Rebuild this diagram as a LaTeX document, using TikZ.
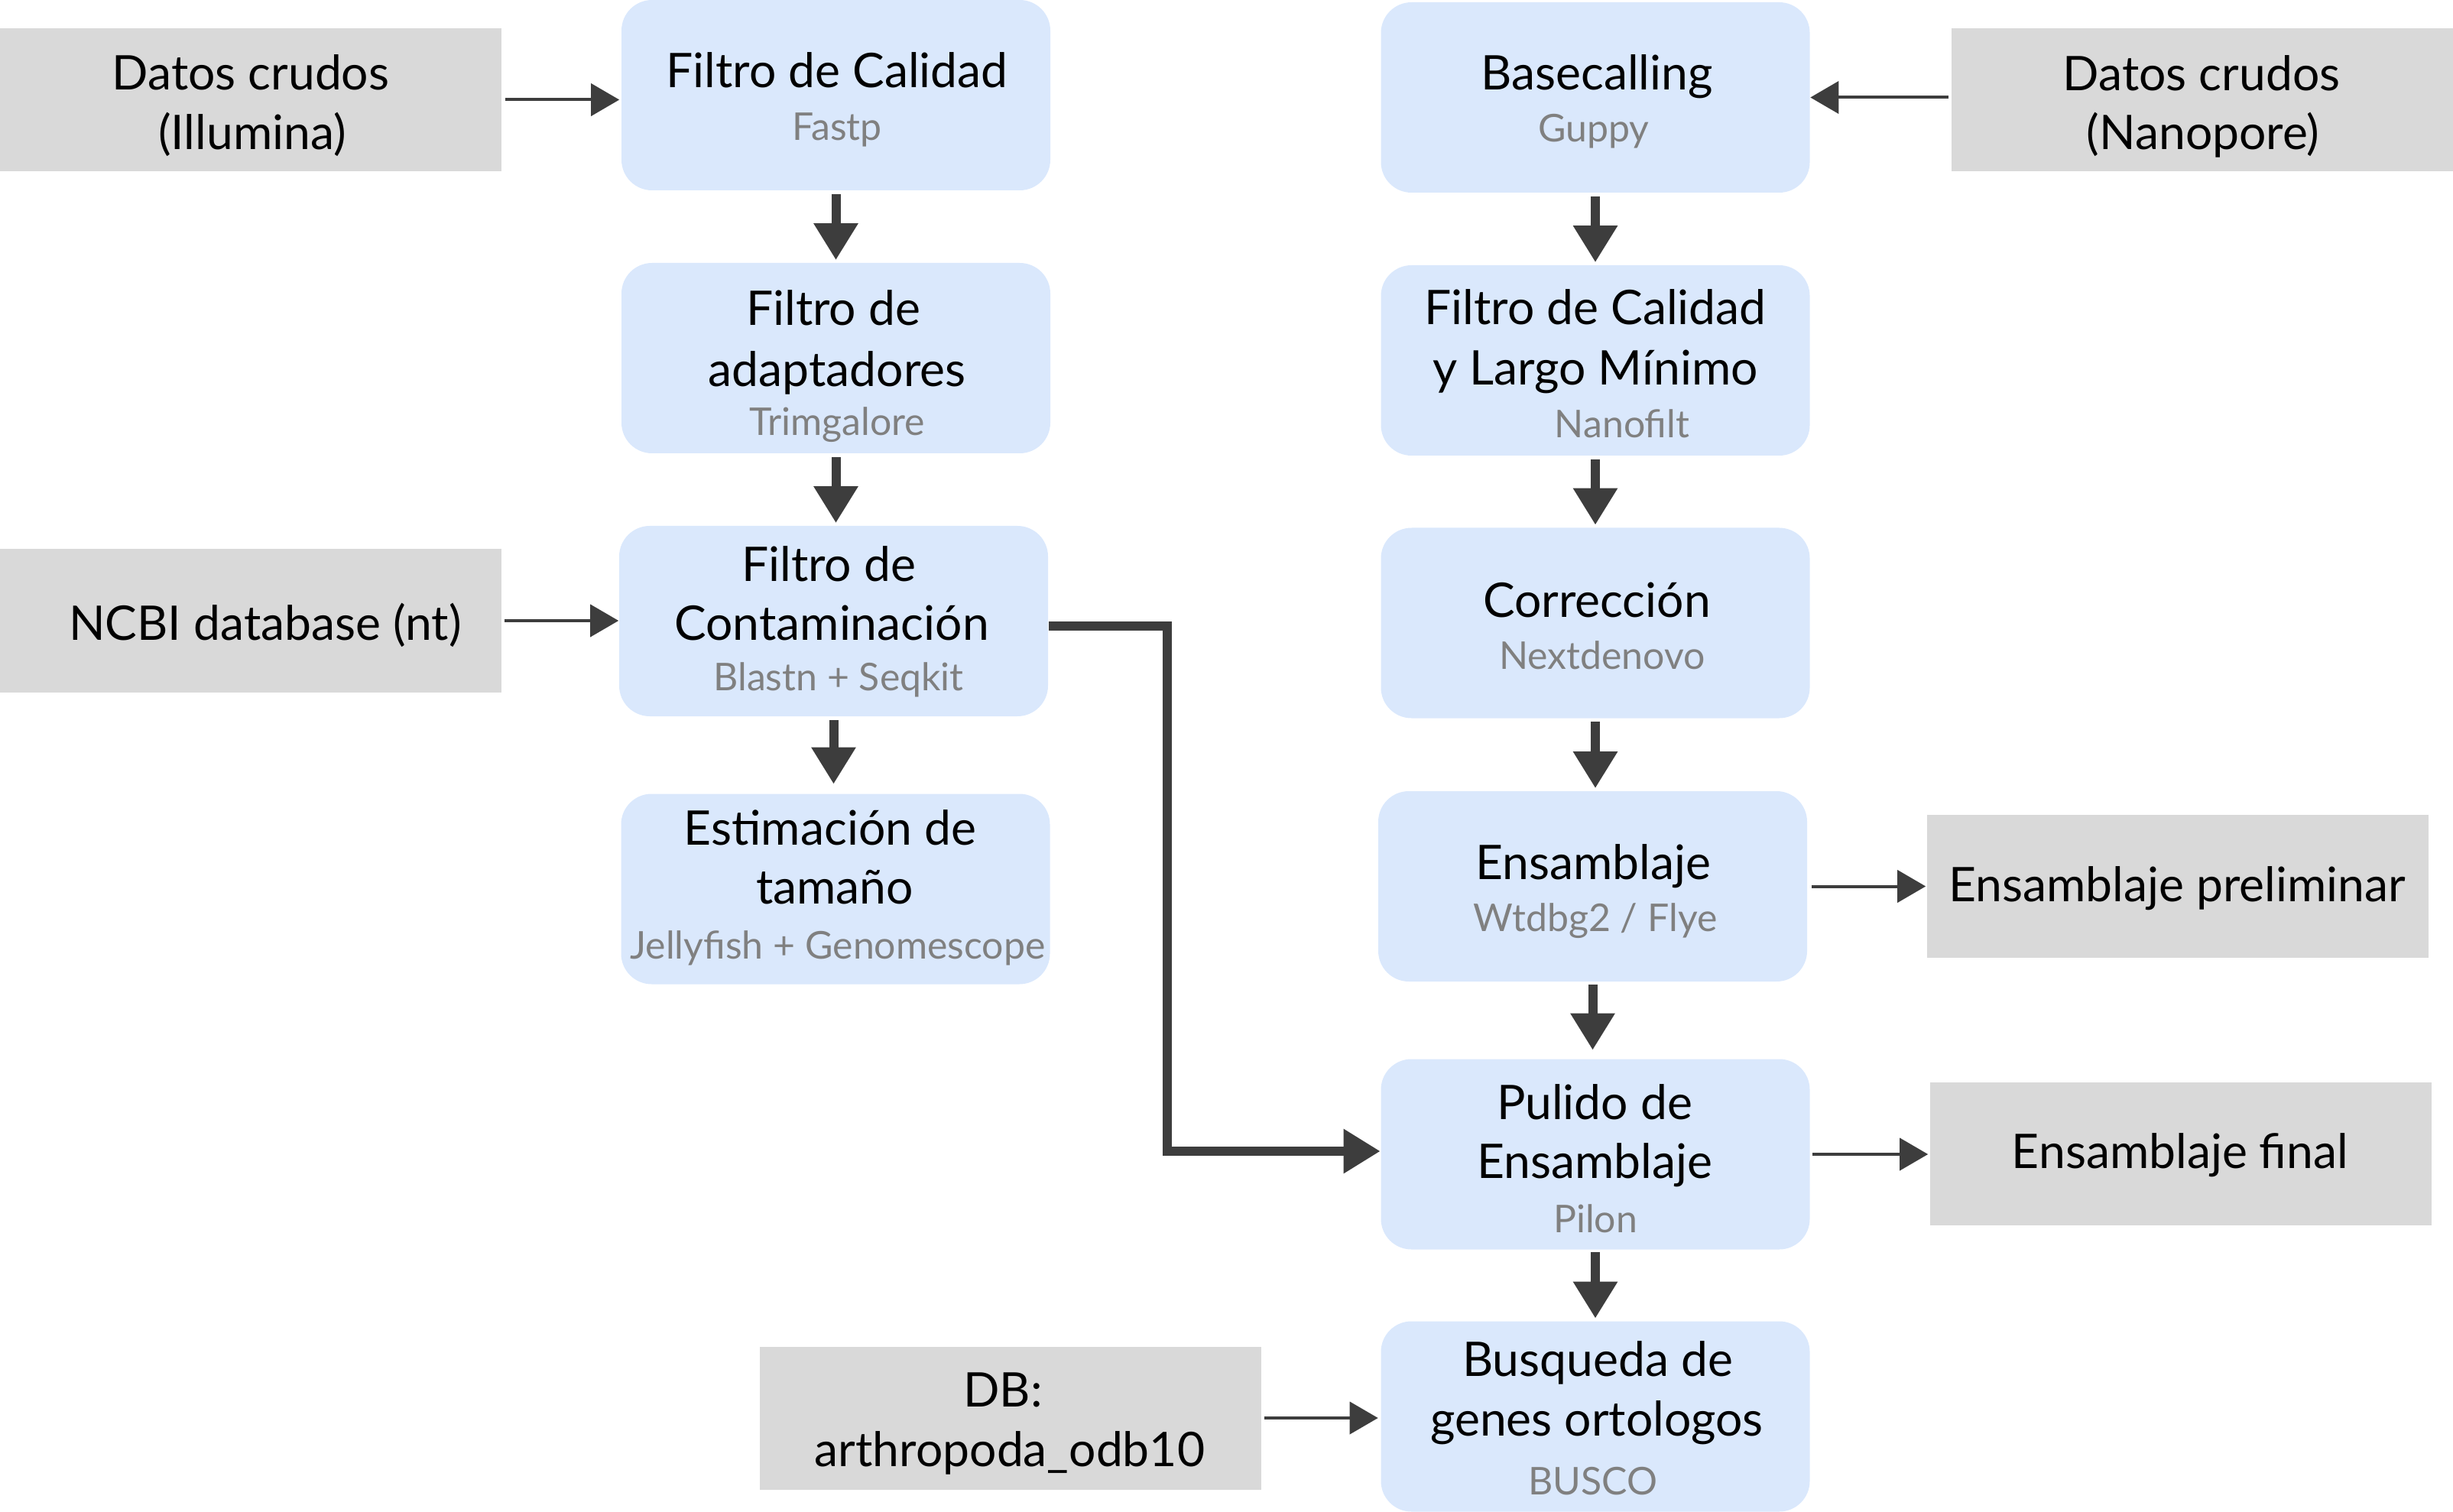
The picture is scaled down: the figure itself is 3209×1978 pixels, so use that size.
\documentclass[tikz,border=0pt]{standalone}
\usepackage{fontspec}
\setmainfont{Lato}
\usetikzlibrary{arrows.meta}
\definecolor{boxblue}{HTML}{DAE8FC}
\definecolor{boxgray}{HTML}{D9D9D9}
\definecolor{arrowc}{HTML}{3D3D3D}
\definecolor{subc}{HTML}{808080}
\tikzset{
  bluebox/.style={fill=boxblue, draw=none, rounded corners=10pt, minimum width=140.25pt, minimum height=62.25pt, inner sep=0pt},
  graybox/.style={fill=boxgray, draw=none, minimum width=164pt, minimum height=46.75pt, inner sep=0pt},
  mtxt/.style={anchor=base, inner sep=0pt, yshift=-0.5pt, font=\fontsize{15.6pt}{18pt}\selectfont, text=black},
  stxt/.style={anchor=base, inner sep=0pt, yshift=-0.5pt, font=\fontsize{12.5pt}{15pt}\selectfont, text=subc},
  thinarrow/.style={draw=arrowc, line width=1pt, -{Triangle[length=9.25pt,width=10.5pt]}},
  thickarrow/.style={draw=arrowc, line width=3pt, -{Triangle[length=12pt,width=13.75pt]}}
}
\begin{document}
\begin{tikzpicture}[x=0.25pt,y=-0.25pt]
\useasboundingbox (0,0) rectangle (3209,1978);

% gray boxes
\node[graybox] (ill) at (328,130.5) {};
\node[graybox] (ncbi) at (328,812) {};
\node[graybox] (nano) at (2881,130.5) {};
\node[graybox] (prelim) at (2849,1159.5) {};
\node[graybox] (final) at (2853,1509.5) {};
\node[graybox] (db) at (1322,1855) {};

% blue boxes
\node[bluebox] (fc) at (1093.5,124.5) {};
\node[bluebox] (fa) at (1093.5,468.5) {};
\node[bluebox] (fcont) at (1090.5,812.5) {};
\node[bluebox] (est) at (1093,1163) {};
\node[bluebox] (base) at (2087,127.5) {};
\node[bluebox] (fcl) at (2087,471.5) {};
\node[bluebox] (corr) at (2087,815) {};
\node[bluebox] (ens) at (2083.5,1159.5) {};
\node[bluebox] (pul) at (2087,1510) {};
\node[bluebox] (bus) at (2087,1853) {};

% texts of gray boxes
\node[mtxt] (ill1) at (328,116) {Datos crudos};
\node[mtxt] (ill2) at (330,194) {(Illumina)};
\node[mtxt] (ncbi1) at (347,835) {NCBI database (nt)};
\node[mtxt] (nano1) at (2880,117) {Datos crudos};
\node[mtxt] (nano2) at (2882,194) {(Nanopore)};
\node[mtxt] (prelim1) at (2848,1177) {Ensamblaje preliminar};
\node[mtxt] (final1) at (2852,1526) {Ensamblaje final};
\node[mtxt] (db1) at (1312,1838) {DB:};
\node[mtxt] (db2) at (1321,1916) {arthropoda\_odb10};

% texts of blue boxes
\node[mtxt] (fc1) at (1095,113) {Filtro de Calidad};
\node[stxt] (fc2) at (1095,182) {Fastp};
\node[mtxt] (fa1) at (1090,424) {Filtro de};
\node[mtxt] (fa2) at (1095,504) {adaptadores};
\node[stxt] (fa3) at (1095,568) {Trimgalore};
\node[mtxt] (fcont1) at (1084,758) {Filtro de};
\node[mtxt] (fcont2) at (1088,835) {Contaminación};
\node[stxt] (fcont3) at (1097,901) {Blastn + Seqkit};
\node[mtxt] (est1) at (1086,1103) {Estimación de};
\node[mtxt] (est2) at (1092,1180) {tamaño};
\node[stxt] (est3) at (1096,1252) {Jellyfish + Genomescope};
\node[mtxt] (base1) at (2089,116) {Basecalling};
\node[stxt] (base2) at (2085,184) {Guppy};
\node[mtxt] (fcl1) at (2087,423) {Filtro de Calidad};
\node[mtxt] (fcl2) at (2087,502) {y Largo Mínimo};
\node[stxt] (fcl3) at (2122,571) {Nanofilt};
\node[mtxt] (corr1) at (2089,805) {Corrección};
\node[stxt] (corr2) at (2096,873) {Nextdenovo};
\node[mtxt] (ens1) at (2084,1148) {Ensamblaje};
\node[stxt] (ens2) at (2087,1216) {Wtdbg2 / Flye};
\node[mtxt] (pul1) at (2086,1462) {Pulido de};
\node[mtxt] (pul2) at (2086,1539) {Ensamblaje};
\node[stxt] (pul3) at (2087,1610) {Pilon};
\node[mtxt] (bus1) at (2090,1798) {Busqueda de};
\node[mtxt] (bus2) at (2089,1876) {genes ortologos};
\node[stxt] (bus3) at (2084,1953) {BUSCO};

% thin arrows
\draw[thinarrow, shorten <=1pt, shorten >=0.5pt] (ill.east) -- (ill.east -| fc.west);
\draw[thinarrow, shorten <=0.75pt] (ncbi.east) -- (ncbi.east -| fcont.west);
\draw[thinarrow, shorten <=0.75pt] ([yshift=0.75pt]nano.west) -- ([yshift=0.75pt]nano.west -| base.east);
\draw[thinarrow, shorten <=1.25pt, shorten >=0.25pt] (ens.east) -- (ens.east -| prelim.west);
\draw[thinarrow, shorten <=0.75pt, shorten >=0.5pt] (pul.east) -- (pul.east -| final.west);
\draw[thinarrow, shorten <=0.75pt, shorten >=0.75pt] (db.east) -- (db.east -| bus.west);

% thick arrows
\draw[thickarrow, shorten <=1pt, shorten >=0.75pt] (fc.south) -- (fa.north);
\draw[thickarrow, shorten <=1pt, shorten >=0.75pt] (fa.south) -- (fa.south |- fcont.north);
\draw[thickarrow, shorten <=1pt, shorten >=3pt] (fcont.south) -- (fcont.south |- est.north);
\draw[thickarrow, shorten <=1pt, shorten >=0.75pt] (base.south) -- (fcl.north);
\draw[thickarrow, shorten <=1pt, shorten >=0.75pt] (fcl.south) -- (corr.north);
\draw[thickarrow, shorten <=1pt, shorten >=0.75pt] (corr.south) -- (corr.south |- ens.north);
\draw[thickarrow, shorten <=0.75pt, shorten >=2.75pt] (ens.south) -- (ens.south |- pul.north);
\draw[thickarrow, shorten <=0.75pt, shorten >=0.75pt] (pul.south) -- (bus.north);

% contamination to polishing
\coordinate (k1) at (1527,819);
\coordinate (k2) at (1527,1506);
\draw[thickarrow, line join=miter] (fcont.east |- k1) -- (k1) -- (k2) -- (pul.west |- k2);
\end{tikzpicture}
\end{document}
